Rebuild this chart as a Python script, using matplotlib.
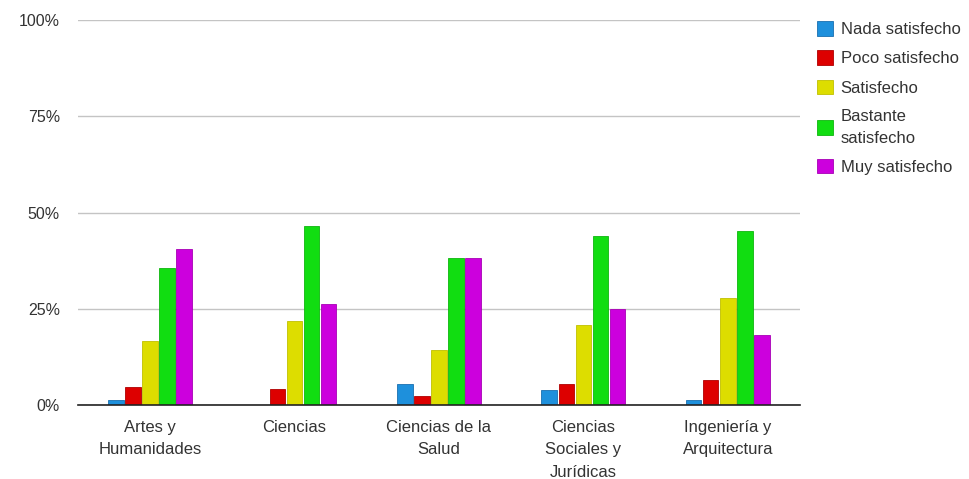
import numpy as np
import matplotlib.pyplot as plt
from matplotlib.ticker import FuncFormatter

plt.rcParams['font.family'] = ['Liberation Sans', 'DejaVu Sans']

categories = ["Artes y\nHumanidades", "Ciencias", "Ciencias de la\nSalud",
              "Ciencias\nSociales y\nJurídicas", "Ingeniería y\nArquitectura"]
series_names = ["Nada satisfecho", "Poco satisfecho", "Satisfecho",
                "Bastante\nsatisfecho", "Muy satisfecho"]

nada = [1.3, 0.0, 5.4, 3.8, 1.2]
poco = [4.8, 4.2, 2.4, 5.4, 6.4]
satisfecho = [16.7, 21.9, 14.3, 20.9, 27.8]
bastante = [35.7, 46.6, 38.3, 43.9, 45.3]
muy = [40.6, 26.2, 38.3, 24.9, 18.2]

values = [nada, poco, satisfecho, bastante, muy]
colors = ["#1e90dc", "#dd0000", "#dddd00", "#11dd11", "#cc00dd"]
edges = ["#1a6fb0", "#b00000", "#c0c000", "#0fb50f", "#a800b5"]

fig = plt.figure(figsize=(9.69, 4.79), dpi=100)
ax = fig.add_axes([0.0805, 0.1545, 0.745, 0.8035])

x = np.arange(len(categories))
w = 0.108
slot = 0.118
for i, vals in enumerate(values):
    ax.bar(x + (i - 2) * slot, vals, width=w, color=colors[i],
           edgecolor=edges[i], linewidth=0.6, label=series_names[i], zorder=3)

ax.set_xlim(-0.5, len(categories) - 0.5)
ax.set_ylim(0, 100)
ax.set_yticks([0, 25, 50, 75, 100])
ax.yaxis.set_major_formatter(FuncFormatter(lambda v, p: f"{int(v)}%"))
ax.grid(axis="y", color="#c4c4c4", linewidth=1, zorder=0)
ax.set_xticks(x)
ax.set_xticklabels(categories, linespacing=1.6)
for s in ["top", "right", "left"]:
    ax.spines[s].set_visible(False)
ax.spines["bottom"].set_color("#222222")
ax.spines["bottom"].set_linewidth(1.2)
ax.spines["bottom"].set_zorder(4)
ax.tick_params(axis="y", length=0, labelsize=11.5, colors="#333333", pad=13)
ax.tick_params(axis="x", length=0, labelsize=12, colors="#333333", pad=11)

leg = fig.legend(loc="upper left", bbox_to_anchor=(0.828, 0.987), frameon=False,
                 fontsize=12, handlelength=0.95, handleheight=0.95,
                 handletextpad=0.45, labelspacing=0.8)
for t in leg.get_texts():
    t.set_color("#333333")
    t.set_linespacing(1.55)

fig.savefig("out.png", dpi=100)
